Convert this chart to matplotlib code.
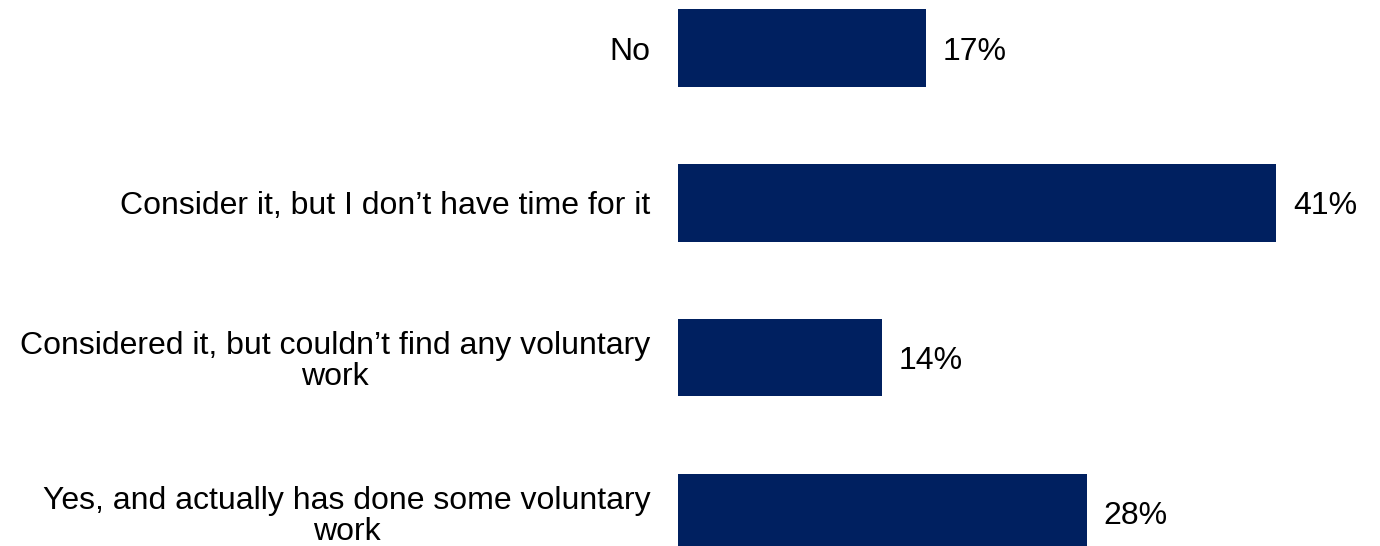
import matplotlib.pyplot as plt
import numpy as np

# --- Data ---
categories = [
    "No",
    "Consider it, but I don\u2019t have time for it",
    "Considered it, but couldn\u2019t find any voluntary\nwork",
    "Yes, and actually has done some voluntary\nwork",
]
shares = [17, 41, 14, 28]

BAR_COLOR = "#002060"
FS = 23
plt.rcParams["font.family"] = ["Liberation Sans", "DejaVu Sans"]

fig = plt.figure(figsize=(13.8, 5.46), dpi=100)
# axes starts where the bars start, spans the full height
ax = fig.add_axes([678 / 1380, 0, 702 / 1380, 1])

y = np.arange(len(categories))
ax.barh(y, shares, height=0.5, color=BAR_COLOR)

ax.set_xlim(0, 702 / 14.59)
ax.set_ylim(3.216, -0.31)

ax.set_yticks(y)
ax.set_yticklabels(categories, fontsize=FS)
for lbl in ax.get_yticklabels():
    lbl.set_multialignment("center")
    lbl.set_linespacing(1.02)
ax.tick_params(axis="y", length=0, pad=20)
ax.set_xticks([])

for yi, v in zip(y, shares):
    ax.annotate(f"{v}%", (v, yi), xytext=(12, 0), textcoords="offset points",
                va="center_baseline", ha="left", fontsize=FS)

for s in ax.spines.values():
    s.set_visible(False)

fig.savefig("out.png", dpi=100)
